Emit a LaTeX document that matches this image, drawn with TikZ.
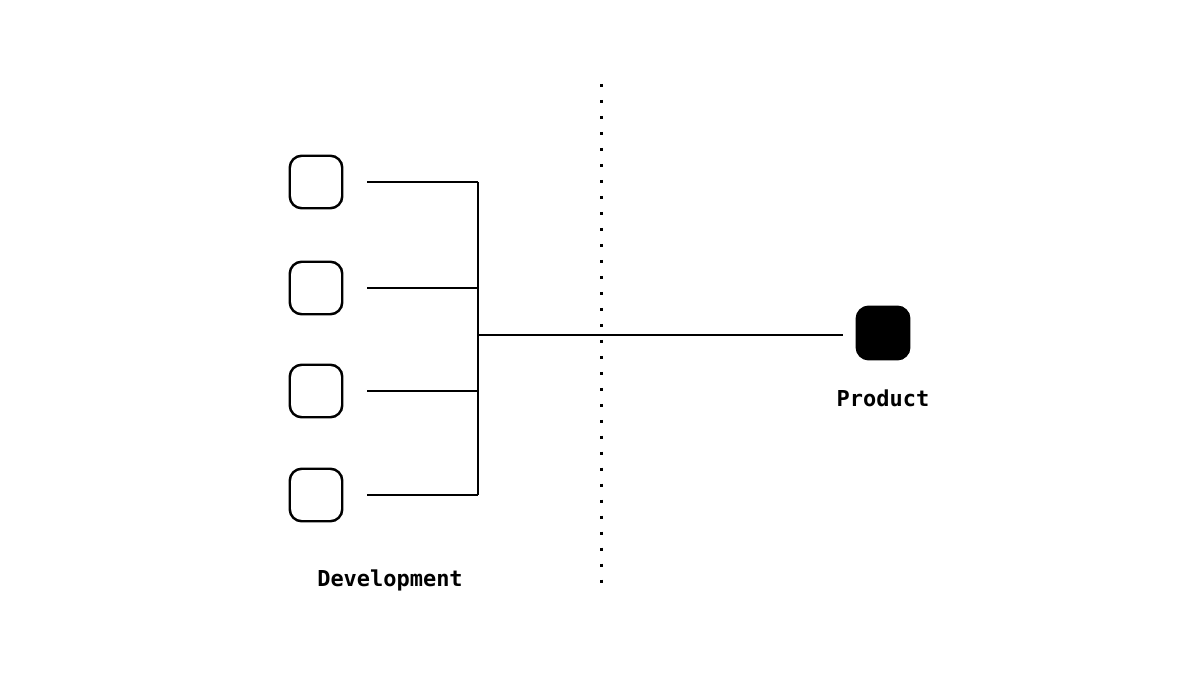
\documentclass[tikz,border=0pt]{standalone}
\usepackage{fontspec}
\newfontfamily\labelfont{DejaVu Sans Mono}
\usetikzlibrary{positioning}

\begin{document}
\begin{tikzpicture}[x=0.02cm,y=-0.02cm,line width=1.4pt,
    devbox/.style={draw,rounded corners=6.8pt,minimum size=1.05cm,inner sep=0pt},
    prodbox/.style={devbox,fill=black},
    caption/.style={font=\labelfont\bfseries\fontsize{12.5}{15}\selectfont}]
  \useasboundingbox (0,0) rectangle (1200,675);
  \def \Boxes {
    1/182,
    2/288,
    3/391,
    4/495}

  \coordinate (trunk) at (478,335);
  \node[prodbox] (prod) at (883,333) {};
  \node[caption] (prodlabel) at (883,398) {Product};
  \node[caption] (devlabel) at (390,580) {Development};

  \foreach \id / \y in \Boxes {
    \node[devbox] (dev\id) at (316,\y) {};
    \draw[shorten <=0.48cm] (dev\id.east) -- (dev\id.east -| trunk);
  }
  \draw (dev1.east -| trunk) -- (dev4.east -| trunk);
  \draw[shorten >=0.26cm] (trunk) -- (trunk -| prod.west);

  % border between the two stages
  \draw[line width=1.7pt,dash pattern=on 1.7pt off 7.4pt] (601,84) -- (601,590);
\end{tikzpicture}
\end{document}
